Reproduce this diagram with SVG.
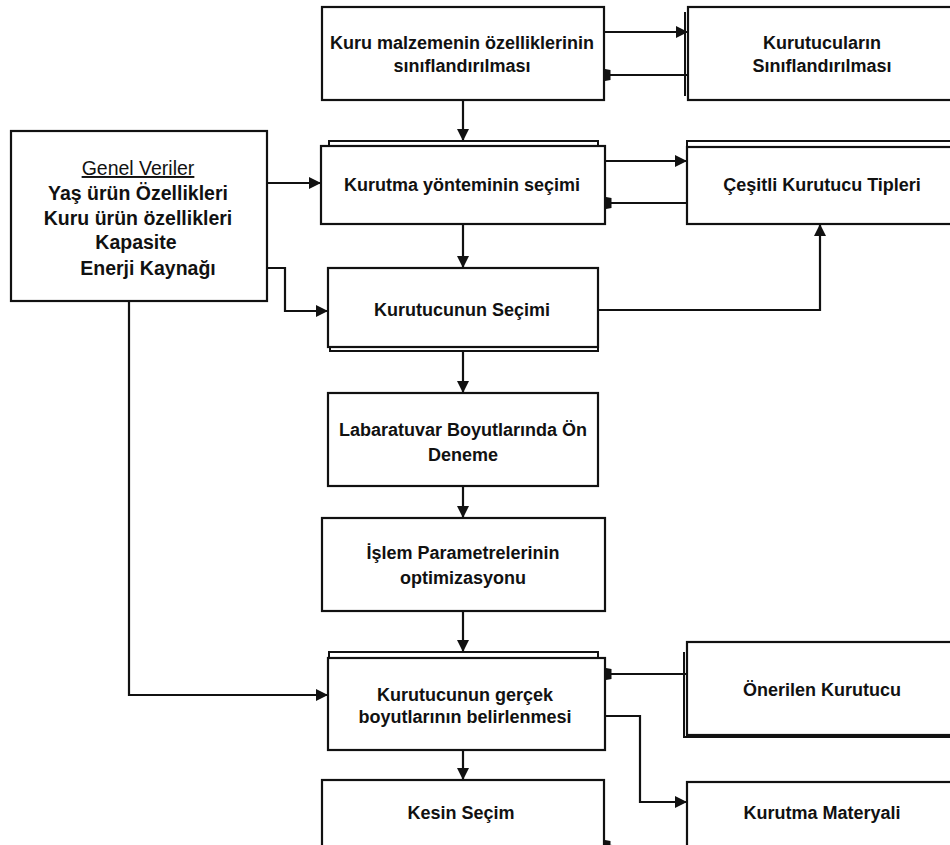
<svg xmlns="http://www.w3.org/2000/svg" width="950" height="845" viewBox="0 0 950 845">
<style>
.box{fill:#fff;stroke:#111;stroke-width:2.2}
.dbl{fill:none;stroke:#111;stroke-width:2}
.t{font-family:"Liberation Sans",Arial,sans-serif;font-size:18px;font-weight:bold;fill:#111;text-anchor:middle}
.g{font-family:"Liberation Sans",Arial,sans-serif;font-size:19.5px;font-weight:bold;fill:#111;text-anchor:middle}
.c{fill:none;stroke:#111;stroke-width:2.2}
</style>
<defs>
<marker id="a" viewBox="0 0 12 12" refX="11" refY="6" markerWidth="12" markerHeight="12" markerUnits="userSpaceOnUse" orient="auto">
<path d="M0,0 L12,6 L0,12 z" fill="#111"/>
</marker>
<marker id="s" viewBox="0 0 6 12" refX="5.5" refY="6" markerWidth="6" markerHeight="12" markerUnits="userSpaceOnUse" orient="auto">
<path d="M0,1 L6,0 L6,12 L0,11 z" fill="#111"/>
</marker>
</defs>
<rect width="950" height="845" fill="#fff"/>

<g id="genel">
<rect class="box" x="11" y="131" width="256" height="170"/>
<text class="g" x="138" y="175" font-weight="normal" text-decoration="underline" style="font-weight:normal">Genel Veriler</text>
<text class="g" x="138" y="200">Yaş ürün Özellikleri</text>
<text class="g" x="138" y="225">Kuru ürün özellikleri</text>
<text class="g" x="136" y="249">Kapasite</text>
<text class="g" x="148" y="275">Enerji Kaynağı</text>
</g>

<g id="n1">
<rect class="box" x="322" y="7" width="282" height="93"/>
<text class="t" x="462" y="49">Kuru malzemenin özelliklerinin</text>
<text class="t" x="462" y="72">sınıflandırılması</text>
</g>

<g id="n2">
<path class="dbl" d="M329,146 V141 H598 V146"/>
<rect class="box" x="321" y="146" width="284" height="78"/>
<text class="t" x="462" y="191">Kurutma yönteminin seçimi</text>
</g>

<g id="n3">
<path class="dbl" d="M330,347 V351 H598 V347"/>
<rect class="box" x="328" y="268" width="270" height="79"/>
<text class="t" x="462" y="316">Kurutucunun Seçimi</text>
</g>

<g id="n4">
<rect class="box" x="328" y="393" width="270" height="93"/>
<text class="t" x="463" y="436">Labaratuvar Boyutlarında Ön</text>
<text class="t" x="463" y="461">Deneme</text>
</g>

<g id="n5">
<rect class="box" x="322" y="518" width="283" height="93"/>
<text class="t" x="463" y="559">İşlem Parametrelerinin</text>
<text class="t" x="463" y="584">optimizasyonu</text>
</g>

<g id="n6">
<path class="dbl" d="M329,658 V652 H598 V658"/>
<rect class="box" x="328" y="658" width="277" height="92"/>
<text class="t" x="465" y="701">Kurutucunun gerçek</text>
<text class="t" x="465" y="723">boyutlarının belirlenmesi</text>
</g>

<g id="n7">
<rect class="box" x="322" y="780" width="282" height="80"/>
<text class="t" x="461" y="819">Kesin Seçim</text>
</g>

<g id="r1">
<path class="dbl" d="M685,12 V96"/>
<rect class="box" x="688" y="7" width="270" height="93"/>
<text class="t" x="822" y="49">Kurutucuların</text>
<text class="t" x="822" y="72">Sınıflandırılması</text>
</g>

<g id="r2">
<path class="dbl" d="M687,147 V141 H955"/>
<rect class="box" x="687" y="147" width="270" height="77"/>
<text class="t" x="822" y="191">Çeşitli Kurutucu Tipleri</text>
</g>

<g id="r3">
<path class="dbl" d="M684,652 V737 H955"/>
<rect class="box" x="687" y="642" width="270" height="93"/>
<text class="t" x="822" y="696">Önerilen Kurutucu</text>
</g>

<g id="r4">
<rect class="box" x="687" y="782" width="270" height="80"/>
<text class="t" x="822" y="819">Kurutma Materyali</text>
</g>

<g id="connectors">
<path class="c" d="M604,32 H687" marker-end="url(#a)"/>
<path class="c" d="M688,75 H605" marker-end="url(#s)"/>
<path class="c" d="M605,161 H686" marker-end="url(#a)"/>
<path class="c" d="M687,203 H606" marker-end="url(#s)"/>
<path class="c" d="M463,100 V140" marker-end="url(#a)"/>
<path class="c" d="M463,224 V267" marker-end="url(#a)"/>
<path class="c" d="M463,351 V392" marker-end="url(#a)"/>
<path class="c" d="M463,486 V517" marker-end="url(#a)"/>
<path class="c" d="M463,611 V651" marker-end="url(#a)"/>
<path class="c" d="M463,750 V779" marker-end="url(#a)"/>
<path class="c" d="M267,183 H320" marker-end="url(#a)"/>
<path class="c" d="M267,268 H285 V311 H327" marker-end="url(#a)"/>
<path class="c" d="M598,310 H820 V225" marker-end="url(#a)"/>
<path class="c" d="M129,301 V695 H327" marker-end="url(#a)"/>
<path class="c" d="M687,674 H606" marker-end="url(#s)"/>
<path class="c" d="M605,716 H640 V802 H686" marker-end="url(#a)"/>
<path class="c" d="M612,846 H605" marker-end="url(#s)"/>
</g>
</svg>
